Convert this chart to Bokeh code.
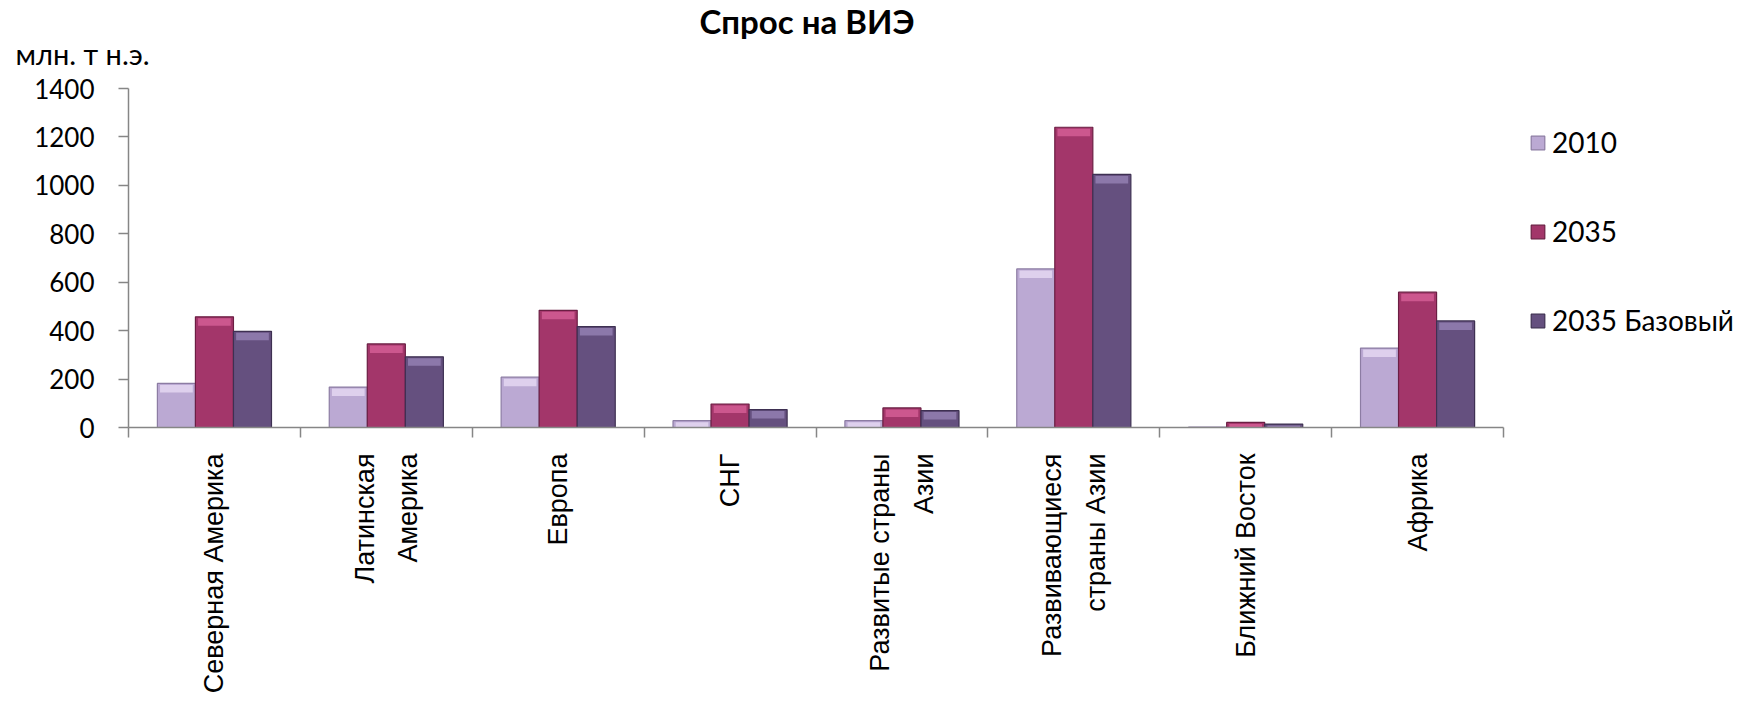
import numpy as np
from bokeh.plotting import figure
from bokeh.models import (Range1d, FixedTicker, Legend, LegendItem, ColumnDataSource, Title)
from bokeh.transform import dodge
from bokeh.embed import file_html
from bokeh.resources import INLINE

# ---- data ----
title_text = "Спрос на ВИЭ"
unit_text = "млн. т н.э."
categories = [
    "Северная Америка",
    "Латинская\nАмерика",
    "Европа",
    "СНГ",
    "Развитые страны\nАзии",
    "Развивающиеся\nстраны Азии",
    "Ближний Восток",
    "Африка",
]
series_names = ["2010", "2035", "2035 Базовый"]
v2010 = [182, 167, 208, 28, 28, 655, 2, 328]
v2035 = [457, 345, 484, 97, 81, 1240, 21, 559]
vbase = [397, 292, 417, 74, 70, 1045, 14, 440]
y_ticks = [0, 200, 400, 600, 800, 1000, 1200, 1400]

# ---- styles ----
body_cols = ["#BBA9D3", "#A3366A", "#65507F"]
hi_cols = ["#E9DDF5", "#D9639B", "#9A86B8"]
edge_cols = ["#8C7CA3", "#6B1E43", "#3E3052"]

n = len(categories)
W, H = 1740, 700
BL, BT = 128, 88
FH = 339
CAT_PX = 1375 / n                 # pixel width of one category
FW = W - BL                       # frame runs to the right edge (legend lives inside)
BB = H - BT - FH
units_per_px = 1400 / FH

p = figure(width=W, height=H, output_backend="svg", toolbar_location=None,
           x_range=Range1d(0, FW / CAT_PX), y_range=Range1d(0, 1400),
           min_border_left=BL, min_border_right=0, min_border_top=BT, min_border_bottom=BB)
p.outline_line_color = None
p.xgrid.visible = False
p.ygrid.visible = False

src = ColumnDataSource(dict(x=[i + 0.5 for i in range(n)], v2010=v2010, v2035=v2035, vbase=vbase))
bw = 0.2213
offsets = [-bw, 0.0, bw]
keys = ["v2010", "v2035", "vbase"]
renderers = []
strip = 9 * units_per_px
for k, off, bc, hc, ec in zip(keys, offsets, body_cols, hi_cols, edge_cols):
    r = p.vbar(x=dodge("x", off, range=p.x_range), top=k, bottom=0, width=bw, source=src,
               fill_color=bc, line_color=ec, line_width=1.2)
    renderers.append(r)
    vals = np.array(src.data[k], dtype=float)
    hs = ColumnDataSource(dict(x=src.data["x"], top=vals - 1.5 * units_per_px,
                               bottom=np.maximum(vals - strip, 0)))
    p.vbar(x=dodge("x", off, range=p.x_range), top="top", bottom="bottom", width=bw * 0.86,
           source=hs, fill_color=hc, fill_alpha=0.75, line_color=None)

# axes
axis_col = "#868686"
yax = p.yaxis[0]
yax.ticker = FixedTicker(ticks=y_ticks)
yax.minor_tick_line_color = None
yax.major_tick_out = 10
yax.major_tick_in = 0
yax.major_label_standoff = 24
yax.axis_line_color = axis_col
yax.major_tick_line_color = axis_col
yax.axis_line_width = 1.5
yax.major_tick_line_width = 1.5
yax.major_label_text_font = "Lato"
yax.major_label_text_font_size = "26px"
yax.major_label_text_color = "black"

xax = p.xaxis[0]
xax.bounds = (0, n)
xax.ticker = FixedTicker(ticks=[i + 0.5 for i in range(n)], minor_ticks=list(range(n + 1)))
xax.major_label_overrides = {i + 0.5: c for i, c in enumerate(categories)}
xax.axis_line_color = axis_col
xax.axis_line_width = 1.5
xax.major_tick_line_color = None
xax.major_tick_out = 0
xax.major_tick_in = 0
xax.minor_tick_line_color = axis_col
xax.minor_tick_line_width = 1.5
xax.minor_tick_out = 10
xax.minor_tick_in = 0
xax.major_label_standoff = 16
xax.major_label_orientation = np.pi / 2
xax.major_label_text_font = "Liberation Sans"
xax.major_label_text_font_size = "27px"
xax.major_label_text_color = "black"
xax.major_label_text_line_height = 1.45

# unit label (closest to frame) then main title above it
p.add_layout(Title(text=unit_text, align="left", offset=15 - BL, text_font="Lato",
                   text_font_size="29px", text_font_style="normal", text_color="black",
                   standoff=36), "above")
p.add_layout(Title(text=title_text, align="left", offset=699 - BL, text_font="Lato",
                   text_font_size="33px", text_font_style="bold", text_color="black",
                   standoff=-50), "above")

legend = Legend(items=[LegendItem(label=nm, renderers=[r]) for nm, r in zip(series_names, renderers)],
                location=(1401, 90), orientation="vertical")
legend.label_text_font = "Lato"
legend.label_text_font_size = "28px"
legend.label_text_color = "black"
legend.glyph_width = 17
legend.glyph_height = 17
legend.label_height = 34
legend.spacing = 55
legend.label_standoff = 6
legend.padding = 0
legend.margin = 0
legend.border_line_color = None
legend.background_fill_alpha = 0
p.add_layout(legend)

open("out.html", "w").write(file_html(p, INLINE))
